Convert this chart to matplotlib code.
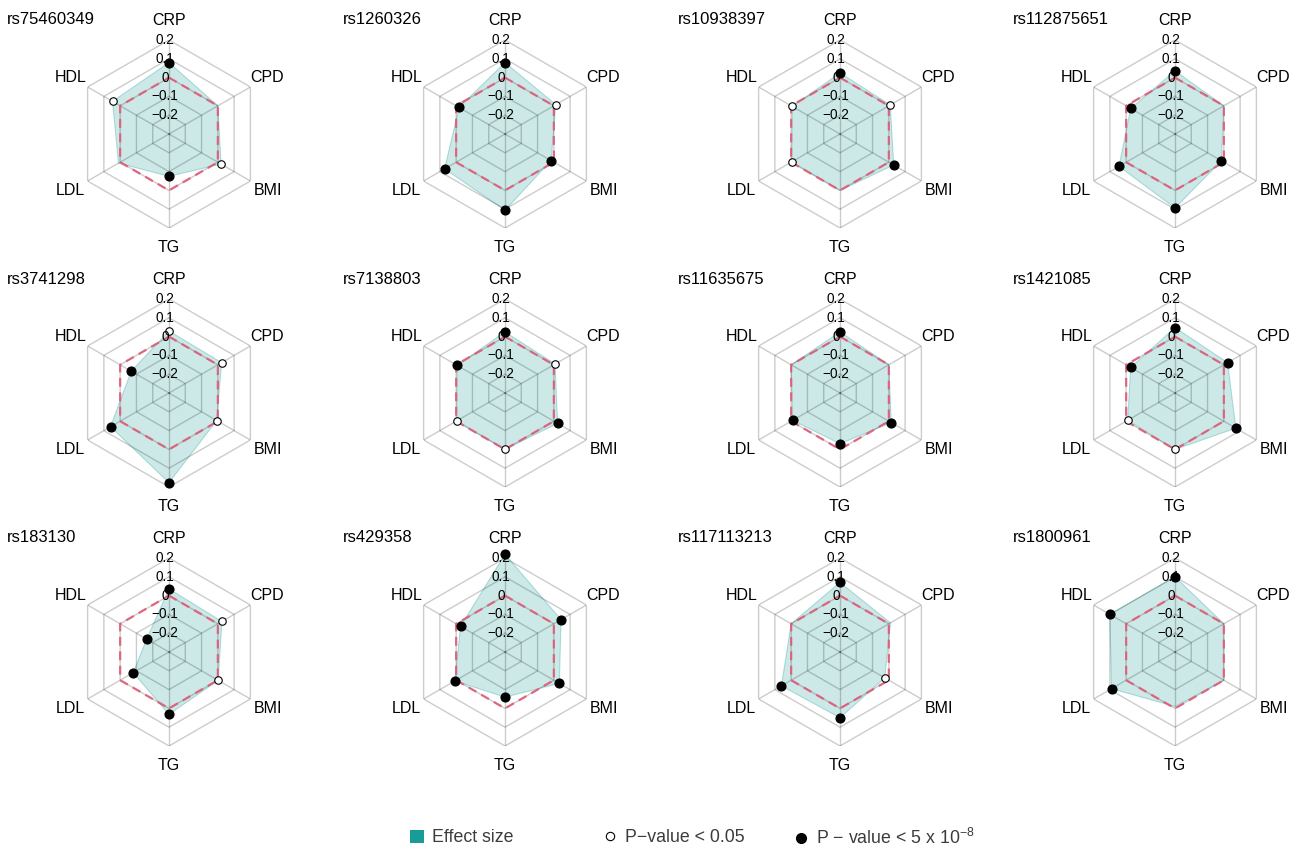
import matplotlib.pyplot as plt
from matplotlib.lines import Line2D
from matplotlib.patches import Patch
import numpy as np

plt.rcParams['font.family'] = ['Liberation Sans', 'DejaVu Sans']
plt.rcParams['mathtext.fontset'] = 'custom'
plt.rcParams['mathtext.rm'] = 'Liberation Sans'

# traits in clockwise order starting at the top
traits = ['CRP', 'CPD', 'BMI', 'TG', 'LDL', 'HDL']
rings = [-0.2, -0.1, 0, 0.1, 0.2]
ring_labels = ['\u22120.2', '\u22120.1', '0', '0.1', '0.2']

snps = ['rs75460349', 'rs1260326', 'rs10938397', 'rs112875651',
        'rs3741298', 'rs7138803', 'rs11635675', 'rs1421085',
        'rs183130', 'rs429358', 'rs117113213', 'rs1800961']

# effect sizes, same order as traits
effect = [
    [0.080, 0.000, 0.020, -0.075, 0.010, 0.047],
    [0.080, 0.012, -0.017, 0.106, 0.071, -0.018],
    [0.025, 0.009, 0.030, 0.000, -0.003, -0.007],
    [0.036, 0.000, -0.015, 0.094, 0.044, -0.028],
    [0.030, 0.023, -0.007, 0.177, 0.059, -0.068],
    [0.025, 0.008, 0.023, 0.000, -0.003, -0.006],
    [0.025, 0.000, 0.015, -0.030, -0.009, 0.000],
    [0.048, 0.023, 0.074, 0.000, -0.009, -0.028],
    [0.036, 0.025, 0.002, 0.032, -0.080, -0.163],
    [0.220, 0.044, 0.034, -0.060, 0.008, -0.027],
    [0.070, 0.010, -0.025, 0.050, 0.060, 0.000],
    [0.100, 0.000, 0.000, -0.010, 0.090, 0.100],
]

# 'f' = P < 5e-8, 'o' = P < 0.05, '' = not significant
signif = [
    ['f', '', 'o', 'f', '', 'o'],
    ['f', 'o', 'f', 'f', 'f', 'f'],
    ['f', 'o', 'f', '', 'o', 'o'],
    ['f', '', 'f', 'f', 'f', 'f'],
    ['o', 'o', 'o', 'f', 'f', 'f'],
    ['f', 'o', 'f', 'o', 'o', 'f'],
    ['f', '', 'f', 'f', 'f', ''],
    ['f', 'f', 'f', 'o', 'o', 'f'],
    ['f', 'o', 'o', 'f', 'f', 'f'],
    ['f', 'f', 'f', 'f', 'f', 'f'],
    ['f', '', 'o', 'f', 'f', ''],
    ['f', '', '', '', 'f', 'f'],
]

W, H = 1300, 849
col_x = [169, 505, 840, 1175]
row_y = [134, 393, 652]
rad = 94

teal = '#199c98'
red = '#e15a76'
grid = (0, 0, 0, 0.2)

fig = plt.figure(figsize=(W / 100, H / 100), dpi=100)

theta = np.arange(6) * np.pi / 3
closed = np.append(theta, theta[0])

for i, snp in enumerate(snps):
    cx = col_x[i % 4]
    cy = row_y[i // 4]
    ax = fig.add_axes([(cx - rad) / W, (H - cy - rad) / H, 2 * rad / W, 2 * rad / H],
                      projection='polar')
    ax.set_theta_zero_location('N')
    ax.set_theta_direction(-1)
    ax.set_ylim(-0.3, 0.2)
    ax.axis('off')

    vals = np.array(effect[i])
    ax.fill(closed, np.append(vals, vals[0]), facecolor=teal, alpha=0.22,
            edgecolor='none', zorder=1, clip_on=False)
    ax.plot(closed, np.append(vals, vals[0]), color=teal, alpha=0.3, lw=0.8,
            zorder=1.5, clip_on=False)

    for r in rings:
        ax.plot(closed, [r] * 7, color=grid, lw=1, zorder=2)
    for t in theta:
        ax.plot([t, t], [-0.3, 0.2], color=grid, lw=1, zorder=2)

    ax.plot(closed, [0] * 7, color=red, lw=1.6, ls=(0, (4, 2.5)), alpha=0.9, zorder=3)

    for t, v, s in zip(theta, vals, signif[i]):
        if s == 'f':
            ax.plot(t, v, 'o', ms=6.3, mfc='black', mec='black', zorder=5, clip_on=False)
        elif s == 'o':
            ax.plot(t, v, 'o', ms=5.4, mfc='white', mec='black', mew=0.8, zorder=5,
                    clip_on=False)

    for r, lab in zip(rings, ring_labels):
        ax.annotate(lab, xy=(0, r), xytext=(-4, 0), textcoords='offset pixels',
                    ha='center', va='center', fontsize=9.8, zorder=6,
                    annotation_clip=False)

    for t, lab in zip(theta, traits):
        ax.text(t, 0.305, lab, ha='center', va='center', fontsize=11.5, clip_on=False)

    fig.text((cx - 162) / W, (H - cy + 114) / H, snp, ha='left', va='center',
             fontsize=12)

leg_y = (H - 838) / H
legend_items = [
    (Patch(facecolor=teal, edgecolor='none'), 'Effect size', 410),
    (Line2D([], [], ls='none', marker='o', ms=6, mfc='white', mec='black', mew=0.8),
     'P\u2212value < 0.05', 603),
    (Line2D([], [], ls='none', marker='o', ms=7, mfc='black', mec='black'),
     'P \u2212 value < 5 x 10$^{-8}$', 794),
]
for handle, label, x0 in legend_items:
    fig.legend([handle], [label], loc='center left', bbox_to_anchor=(x0 / W, leg_y),
               frameon=False, borderpad=0, borderaxespad=0, handlelength=0.8,
               handleheight=0.8, handletextpad=0.45, fontsize=12.8,
               labelcolor='#3c3c3c')

fig.savefig('out.png', dpi=100)
